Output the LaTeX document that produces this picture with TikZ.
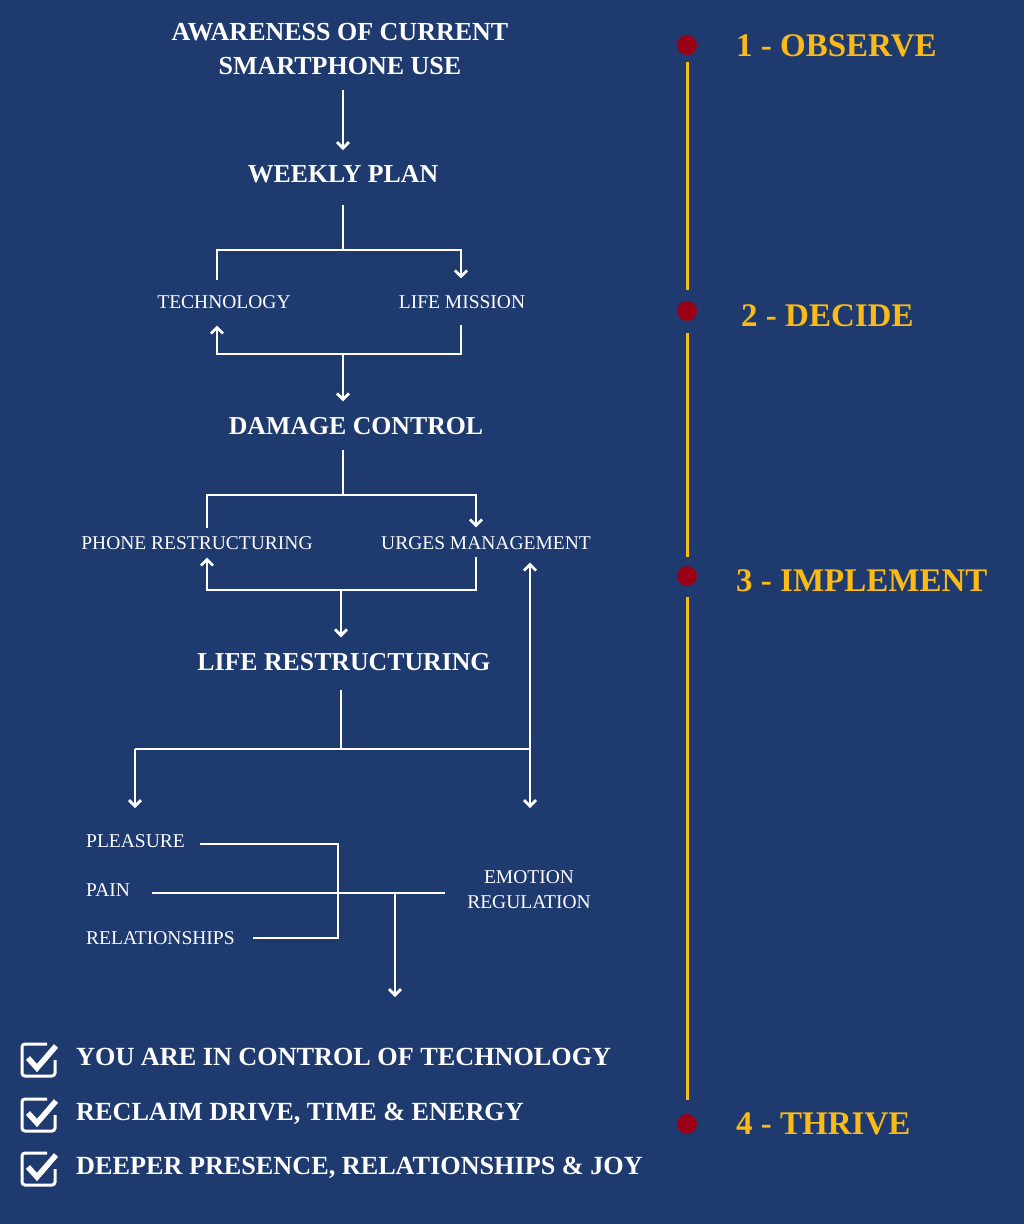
\documentclass[tikz,border=0pt]{standalone}
\usepackage{fontspec}
\setmainfont{Liberation Serif}
\usetikzlibrary{arrows.meta}
\definecolor{bgblue}{HTML}{1F3A6E}
\definecolor{stagey}{HTML}{FBBA16}
\definecolor{dotred}{HTML}{9A0018}
\begin{document}
\begin{tikzpicture}[x=1pt,y=-1pt,
  conn/.style={draw=white, line width=2.7pt},
  arr/.style={conn, -{Straight Barb[length=6pt,width=12pt]}},
  headtwo/.style={text=white, font=\bfseries\fontsize{26}{34}\selectfont, inner sep=0, align=center},
  head/.style={text=white, font=\bfseries\fontsize{25.8}{30}\selectfont, inner sep=0, text height=17pt, text depth=0pt},
  sub/.style={text=white, font=\fontsize{19.5}{25}\selectfont, inner sep=0, text height=12.9pt, text depth=0pt},
  subtwo/.style={text=white, font=\fontsize{19.5}{25}\selectfont, inner sep=0, align=center},
  stage/.style={text=stagey, font=\bfseries\fontsize{33}{40}\selectfont, inner sep=0, anchor=west, text height=21.8pt, text depth=0pt},
  dotnode/.style={circle, fill=dotred, minimum size=20pt, inner sep=0},
  tline/.style={draw=stagey, line width=3pt},
  result/.style={text=white, font=\bfseries\fontsize{26.2}{30}\selectfont, inner sep=0, anchor=west, text height=17.3pt, text depth=0pt},
  boxline/.style={draw=white, line width=3pt, rounded corners=3pt},
  tick/.style={draw=white, line width=5.5pt}
]
\fill[bgblue] (0,0) rectangle (1024,1224);
\useasboundingbox (0,0) rectangle (1024,1224);

% ---- timeline ----
\node[dotnode] (d1) at (687,45) {};
\node[dotnode] (d2) at (687,311) {};
\node[dotnode] (d3) at (687,576) {};
\node[dotnode] (d4) at (687,1124) {};
\draw[tline] ([yshift=-7pt]d1.south) -- ([yshift=11pt]d2.north);
\draw[tline] ([yshift=-12pt]d2.south) -- ([yshift=9pt]d3.north);
\draw[tline] ([yshift=-11pt]d3.south) -- ([yshift=14pt]d4.north);
\node[stage] (s1) at (736,46) {1 - OBSERVE};
\node[stage] (s2) at (741,316) {2 - DECIDE};
\node[stage] (s3) at (736,581) {3 - IMPLEMENT};
\node[stage] (s4) at (736,1124) {4 - THRIVE};

% ---- flow nodes ----
\node[headtwo] (aware) at (340,49) {AWARENESS OF CURRENT\\SMARTPHONE USE};
\node[head] (plan) at (343,174) {WEEKLY PLAN};
\node[sub] (tech) at (224,302) {TECHNOLOGY};
\node[sub] (mission) at (462,302) {LIFE MISSION};
\node[head] (damage) at (356,426) {DAMAGE CONTROL};
\node[sub] (phone) at (197,543) {PHONE RESTRUCTURING};
\node[sub] (urges) at (486,543) {URGES MANAGEMENT};
\node[head] (life) at (344,662) {LIFE RESTRUCTURING};
\node[sub, anchor=west] (pleasure) at (86,841) {PLEASURE};
\node[sub, anchor=west] (pain) at (86,890) {PAIN};
\node[sub, anchor=west] (rel) at (86,938) {RELATIONSHIPS};
\node[subtwo] (emo) at (529,890) {EMOTION\\REGULATION};

% ---- connectors ----
\coordinate (a1) at (343,90);
\coordinate (a2) at (343,150);
\draw[arr] (a1) -- (a2);

\coordinate (b0) at (343,205);
\coordinate (b1) at (343,250);
\coordinate (b2) at (343,354);
\draw[conn] (b0) -- (b1);
\draw[conn] (b1) -| ([xshift=-7pt,yshift=15pt]tech.north);
\draw[arr] (b1) -| ([xshift=-1pt,yshift=17pt]mission.north);
\draw[arr] ([xshift=-1pt,yshift=-16pt]mission.south) |- (b2) -| ([xshift=-7pt,yshift=-17pt]tech.south);
\draw[arr, shorten >=16pt] (b2) -- (b2 |- damage.north);

\coordinate (c0) at (343,450);
\coordinate (c1) at (343,495);
\coordinate (c2) at (341,590);
\draw[conn] (c0) -- (c1);
\draw[conn] (c1) -| ([xshift=10pt,yshift=8pt]phone.north);
\draw[arr] (c1) -| ([xshift=-10pt,yshift=9pt]urges.north);
\draw[arr] ([xshift=-10pt,yshift=-7pt]urges.south) |- (c2) -| ([xshift=10pt,yshift=-8pt]phone.south);
\draw[arr, shorten >=16pt] (c2) -- (c2 |- life.north);

\coordinate (e0) at (341,690);
\coordinate (e1) at (341,749);
\coordinate (eL) at (135,749);
\coordinate (eR) at (530,749);
\coordinate (groupin) at (135,808);
\coordinate (emoin) at (530,808);
\draw[conn] (e0) -- (e1);
\draw[conn] (eL) -- (eR);
\draw[arr] (eL) -- (groupin);
\draw[arr] (eR) -- (emoin);
\draw[arr, shorten >=13pt] (eR) -- (eR |- urges.south);

% ---- pleasure / pain / relationships ----
\coordinate (pl) at (200,844);
\coordinate (re) at (253,938);
\coordinate (pa) at (152,893);
\coordinate (em) at (445,893);
\coordinate (jv) at (395,893);
\coordinate (res) at (395,997);
\draw[conn] (pl) -| (338,938) -- (re);
\draw[conn] (pa) -- (em);
\draw[arr] (jv) -- (res);

% ---- results ----
\foreach \dy/\nm/\txt in {0/r1/{YOU ARE IN CONTROL OF TECHNOLOGY},55/r2/{RECLAIM DRIVE, TIME \& ENERGY},109/r3/{DEEPER PRESENCE, RELATIONSHIPS \& JOY}}{
  \begin{scope}[yshift=-\dy pt]
    \draw[boxline] (47,1044) -- (22,1044) -- (22,1076) -- (55,1076) -- (55,1060);
    \draw[tick] (28,1058) -- (37,1068) -- (56,1046);
    \node[result] (\nm) at (76,1057) {\txt};
  \end{scope}
}
\end{tikzpicture}
\end{document}
